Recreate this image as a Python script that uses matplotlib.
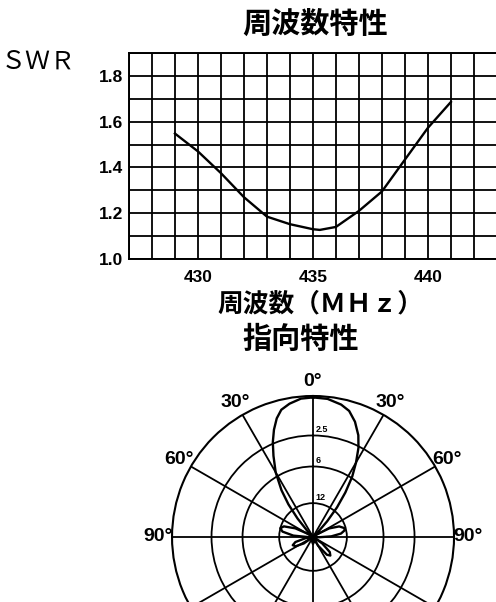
import numpy as np
import matplotlib
matplotlib.use("Agg")
import matplotlib.pyplot as plt
from matplotlib.ticker import MultipleLocator

plt.rcParams["font.family"] = ["Noto Sans CJK JP", "DejaVu Sans"]

# =========================
# data
# =========================

freq_mhz = [429, 430, 431, 432, 433, 434, 435, 435.3, 436, 437, 438, 439, 440, 441]
swr = [1.548, 1.47, 1.375, 1.27, 1.185, 1.152, 1.13, 1.127, 1.14, 1.21, 1.295, 1.434, 1.573, 1.686]

swr_ticks = [1.0, 1.2, 1.4, 1.6, 1.8]
freq_ticks = [430, 435, 440]

# directivity pattern, angle clockwise from front (deg), relative field strength
pattern_deg = [0, 6, 12, 16, 20, 24, 27, 30, 33, 36, 39, 42, 45, 48,
               55, 62, 68, 74, 78, 83, 88, 93, 98,
               115, 125, 132, 137, 142, 150, 158,
               165, 180, 195, 205,
               225, 235, 242, 248, 254, 262, 266,
               268, 274, 280, 285, 290, 296, 302, 307,
               313, 317, 320, 323, 326, 330, 334, 337, 340, 343, 346, 350, 355, 360]
pattern_r = [0.99, 0.985, 0.96, 0.93, 0.87, 0.79, 0.71, 0.61, 0.51, 0.39, 0.27, 0.15, 0.05, 0.0,
             0.03, 0.13, 0.20, 0.23, 0.23, 0.20, 0.13, 0.04, 0.0,
             0.0, 0.08, 0.16, 0.18, 0.16, 0.07, 0.0,
             0.03, 0.05, 0.03, 0.0,
             0.0, 0.08, 0.14, 0.155, 0.13, 0.05, 0.0,
             0.03, 0.14, 0.22, 0.24, 0.22, 0.14, 0.04, 0.0,
             0.0, 0.06, 0.17, 0.29, 0.40, 0.53, 0.64, 0.73, 0.81, 0.88, 0.93, 0.96, 0.985, 0.99]

ring_r = [0.24, 0.50, 0.72]
ring_labels = ["12", "6", "2.5"]
angle_labels = [0, 30, 60, 90, -30, -60, -90]

num_font = ["Liberation Sans Narrow", "Liberation Sans"]

fig = plt.figure(figsize=(4.96, 6.02), dpi=100)

# =========================
# SWR
# =========================

ax = fig.add_axes([0.260, 0.5698, 0.765, 0.3422])
ax.plot(freq_mhz, swr, color="black", lw=1.7)
ax.set_xlim(427, 443.5)
ax.set_ylim(1.0, 1.9)
ax.set_xticks(freq_ticks)
ax.set_xticklabels([str(f) for f in freq_ticks])
ax.set_yticks(swr_ticks)
ax.set_yticklabels(["%.1f" % v for v in swr_ticks])
ax.xaxis.set_minor_locator(MultipleLocator(1))
ax.yaxis.set_minor_locator(MultipleLocator(0.1))
ax.grid(which="both", color="black", lw=1.3)
ax.tick_params(which="both", length=0)
ax.tick_params(axis="x", pad=8)
ax.tick_params(axis="y", pad=4)
for lab in ax.get_xticklabels() + ax.get_yticklabels():
    lab.set_family(num_font)
    lab.set_fontsize(12.5)
    lab.set_fontweight("bold")
for sp in ax.spines.values():
    sp.set_linewidth(1.4)

fig.text(315 / 496, 1 - 24 / 602, "周波数特性", ha="center", va="center",
         fontsize=21, fontweight="bold")
fig.text(1 / 496, 1 - 62 / 602, "ＳＷＲ", ha="left", va="center", fontsize=18)
fig.text(320 / 496, 1 - 304 / 602, "周波数（ＭＨｚ）", ha="center", va="center",
         fontsize=18.5, fontweight="bold")

# =========================
# polar
# =========================

fig.text(301 / 496, 1 - 339 / 602, "指向特性", ha="center", va="center",
         fontsize=21, fontweight="bold")

pax = fig.add_axes([0.3468, -0.1262, 0.5686, 0.4684], projection="polar")
pax.set_theta_zero_location("N")
pax.set_theta_direction(-1)
pax.set_rlim(0, 1)
pax.set_rgrids(ring_r, labels=[""] * len(ring_r))
pax.set_thetagrids(np.arange(0, 360, 30), labels=[""] * 12)
pax.grid(color="black", lw=1.3)
pax.spines["polar"].set_linewidth(1.5)
pax.plot(np.deg2rad(pattern_deg), pattern_r, color="black", lw=1.7)

for r, lab in zip(ring_r, ring_labels):
    pax.annotate(lab, xy=(0, r), xytext=(2, 1), textcoords="offset points",
                 ha="left", va="bottom", fontsize=6.5, fontweight="bold",
                 family=num_font)

for a in angle_labels:
    pax.text(np.deg2rad(a), 1.1, "%d°" % abs(a), ha="center", va="center",
             fontsize=14, fontweight="bold", family=num_font, clip_on=False)

fig.savefig("out.png", dpi=100)
